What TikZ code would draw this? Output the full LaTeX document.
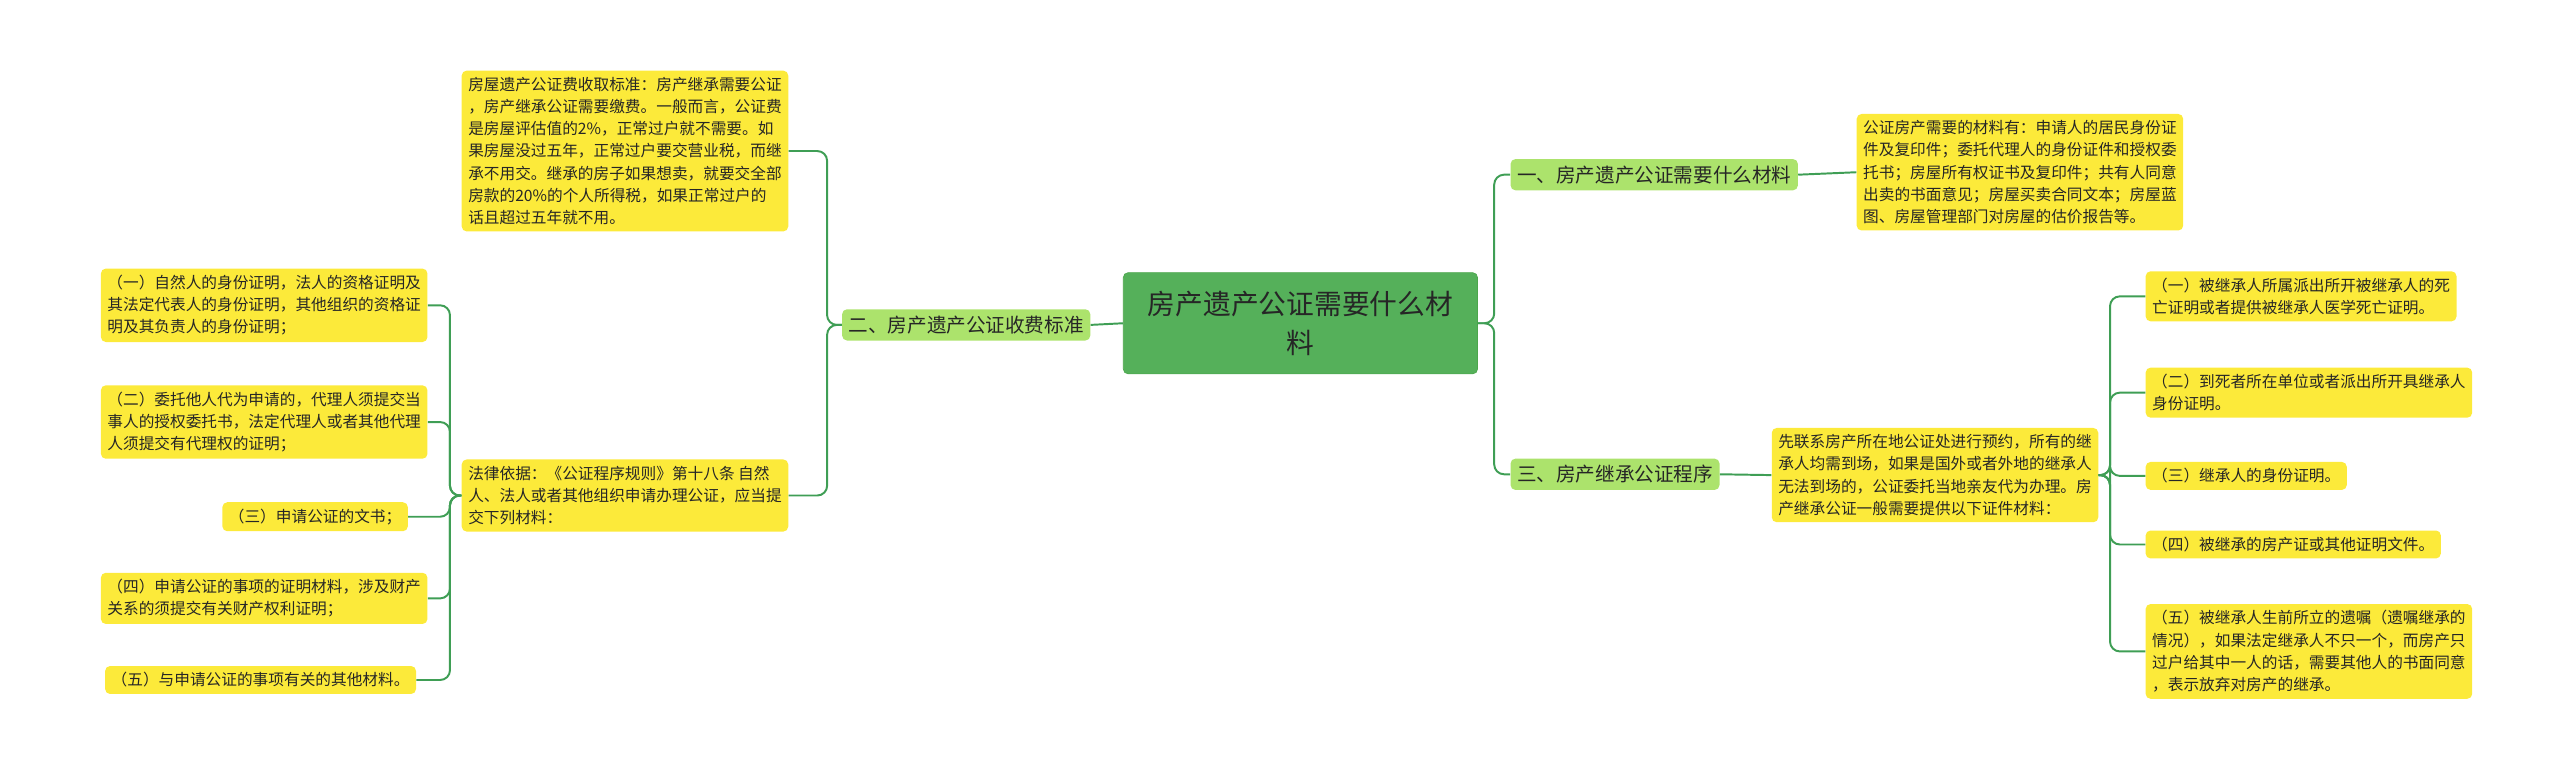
\documentclass[tikz,border=0pt]{standalone}
\usepackage{fontspec}
\setmainfont{Noto Sans CJK SC}
\begin{document}
\begin{tikzpicture}[x=1pt,y=-1pt,
  root/.style={draw=green!50!black!70,fill=rootc,rounded corners=3,text=black!85,font=\fontsize{17}{24}\selectfont,align=center,minimum width=217,minimum height=62,inner sep=2},
  lvone/.style={fill=lvc,rounded corners=3,text=black!85,font=\fontsize{12}{15}\selectfont,inner sep=4},
  leaf/.style={fill=leafc,rounded corners=3,text=black!85,font=\fontsize{9.6}{13.6}\selectfont,align=left,inner sep=4},
  conn/.style={draw=linec,line width=1.2pt,rounded corners=6}]
\definecolor{rootc}{HTML}{55B05A}
\definecolor{lvc}{HTML}{ACE36C}
\definecolor{leafc}{HTML}{FCEA3A}
\definecolor{linec}{HTML}{3F9E55}
\useasboundingbox (0,0) rectangle (1568,473);
\node[root] (r) at (796.5,198) {房产遗产公证需要什么材\\料};
\node[lvone,anchor=west] (a) at (925,107) {一、房产遗产公证需要什么材料};
\node[lvone,anchor=west] (c) at (925,290.5) {三、房产继承公证程序};
\node[lvone,anchor=east] (b) at (668,199) {二、房产遗产公证收费标准};
\node[leaf,anchor=west] (a1) at (1137,105.5) {公证房产需要的材料有：申请人的居民身份证\\件及复印件；委托代理人的身份证件和授权委\\托书；房屋所有权证书及复印件；共有人同意\\出卖的书面意见；房屋买卖合同文本；房屋蓝\\图、房屋管理部门对房屋的估价报告等。};
\node[leaf,anchor=west] (c0) at (1085,291) {先联系房产所在地公证处进行预约，所有的继\\承人均需到场，如果是国外或者外地的继承人\\无法到场的，公证委托当地亲友代为办理。房\\产继承公证一般需要提供以下证件材料：};
\node[leaf,anchor=west] (c1) at (1314,181.5) {（一）被继承人所属派出所开被继承人的死\\亡证明或者提供被继承人医学死亡证明。};
\node[leaf,anchor=west] (c2) at (1314,240.5) {（二）到死者所在单位或者派出所开具继承人\\身份证明。};
\node[leaf,anchor=west] (c3) at (1314,291.5) {（三）继承人的身份证明。};
\node[leaf,anchor=west] (c4) at (1314,333.5) {（四）被继承的房产证或其他证明文件。};
\node[leaf,anchor=west] (c5) at (1314,399) {（五）被继承人生前所立的遗嘱（遗嘱继承的\\情况），如果法定继承人不只一个，而房产只\\过户给其中一人的话，需要其他人的书面同意\\，表示放弃对房产的继承。};
\node[leaf,anchor=east] (b1) at (483,92.5) {房屋遗产公证费收取标准：房产继承需要公证\\，房产继承公证需要缴费。一般而言，公证费\\是房屋评估值的2\%，正常过户就不需要。如\\果房屋没过五年，正常过户要交营业税，而继\\承不用交。继承的房子如果想卖，就要交全部\\房款的20\%的个人所得税，如果正常过户的\\话且超过五年就不用。};
\node[leaf,anchor=east] (b2) at (483,303.5) {法律依据：《公证程序规则》第十八条 自然\\人、法人或者其他组织申请办理公证，应当提\\交下列材料：};
\node[leaf,anchor=east] (d1) at (262,187) {（一）自然人的身份证明，法人的资格证明及\\其法定代表人的身份证明，其他组织的资格证\\明及其负责人的身份证明；};
\node[leaf,anchor=east] (d2) at (262,258.5) {（二）委托他人代为申请的，代理人须提交当\\事人的授权委托书，法定代理人或者其他代理\\人须提交有代理权的证明；};
\node[leaf,anchor=east] (d3) at (250,316.5) {（三）申请公证的文书；};
\node[leaf,anchor=east] (d4) at (262,366.5) {（四）申请公证的事项的证明材料，涉及财产\\关系的须提交有关财产权利证明；};
\node[leaf,anchor=east] (d5) at (255,416.5) {（五）与申请公证的事项有关的其他材料。};
\foreach \t in {a,c} \draw[conn] (r.east) -- ++(10,0) |- (\t.west);
\draw[conn] (r.west) -- (b.east);
\draw[conn] (a.east) -- (a1.west);
\draw[conn] (c.east) -- (c0.west);
\foreach \t in {c1,c2,c3,c4,c5} \draw[conn] (c0.east) -- ++(7,0) |- (\t.west);
\foreach \t in {b1,b2} \draw[conn] (b.west) -- ++(-9,0) |- (\t.east);
\foreach \t in {d1,d2,d3,d4,d5} \draw[conn] (b2.west) -- ++(-7,0) |- (\t.east);
\end{tikzpicture}
\end{document}
